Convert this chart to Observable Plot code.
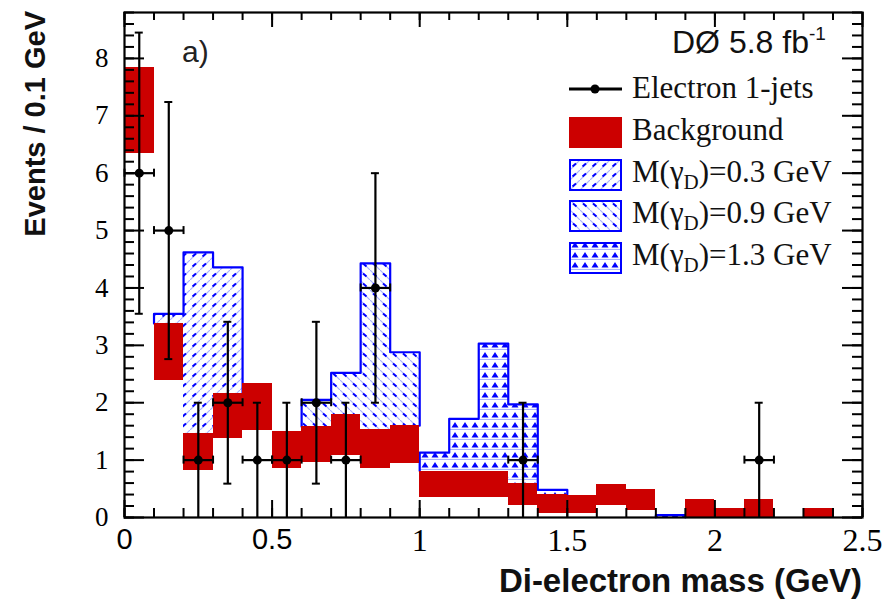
<!DOCTYPE html>
<html><head><meta charset="utf-8">
<script src="https://cdn.jsdelivr.net/npm/d3@7"></script>
<script src="https://cdn.jsdelivr.net/npm/@observablehq/plot@0.6"></script>
<style>
body{margin:0;background:#fff;}
#wrap{position:relative;width:893px;height:607px;overflow:hidden;background:#fff;}
#wrap > svg{position:absolute;left:0;top:0;}
</style></head><body>
<svg width="0" height="0" style="position:absolute;left:0;top:0">
<defs>
<pattern id="p03" width="10" height="10" patternUnits="userSpaceOnUse">
  <rect width="10" height="10" fill="#fff"/>
  <path d="M0,10 L10,0" stroke="#aab4ff" stroke-width="1.2"/>
  <path d="M2.5,6.5 L6,3.5" stroke="#0000ff" stroke-width="2"/>
</pattern>
<pattern id="p09" width="10" height="10" patternUnits="userSpaceOnUse">
  <rect width="10" height="10" fill="#fff"/>
  <path d="M0,0 L10,10" stroke="#aab4ff" stroke-width="1.2"/>
  <path d="M3,3.5 L6.5,6.5" stroke="#0000ff" stroke-width="2"/>
</pattern>
<pattern id="p13" width="10" height="10" patternUnits="userSpaceOnUse">
  <rect width="10" height="10" fill="#fff"/>
  <path d="M0,9.5 L10,9.5" stroke="#aab4ff" stroke-width="1.2"/>
  <path d="M5,2 L8.5,7.5 L1.5,7.5 Z" fill="#0000ff"/>
</pattern>
</defs>
</svg>
<div id="wrap"></div>
<script>
// ---- Data ----
const binLo    = [0.0,0.1,0.2,0.3,0.4,0.5,0.6,0.7,0.8,0.9,1.0,1.1,1.2,1.3,1.4,1.5,1.6,1.7,1.8,1.9,2.0,2.1,2.2,2.3,2.4];
const binHi    = [0.1,0.2,0.3,0.4,0.5,0.6,0.7,0.8,0.9,1.0,1.1,1.2,1.3,1.4,1.5,1.6,1.7,1.8,1.9,2.0,2.1,2.2,2.3,2.4,2.5];
// background uncertainty band (low / high)
const bkgLow   = [6.35,2.39,0.82,1.38,1.52,0.85,0.96,1.08,0.85,0.94,0.35,0.35,0.35,0.21,0.07,0.07,0.21,0.12,null,0,0,0,null,0,null];
const bkgHigh  = [7.85,3.38,1.46,2.16,2.33,1.50,1.58,1.80,1.53,1.60,0.81,0.81,0.81,0.59,0.40,0.38,0.57,0.49,null,0.31,0.16,0.31,null,0.16,null];
// signal + background histogram tops, and which dark-photon mass hypothesis they belong to
const sigTop   = [null,3.55,4.62,4.36,null,null,2.05,2.52,4.43,2.88,1.13,1.72,3.03,1.97,0.48,null,null,null,0.04,null,null,null,null,null,null];
const sigMass  = [null,"0.3","0.3","0.3",null,null,"0.9","0.9","0.9","0.9","1.3","1.3","1.3","1.3","1.3",null,null,null,"1.3",null,null,null,null,null,null];
// data: electron lepton-jets
const dataX    = [0.05,0.15,0.25,0.35,0.45,0.55,0.65,0.75,0.85,1.35,2.15];
const dataN    = [6,5,1,2,1,1,2,1,4,1,1];
const dataLo   = [3.55,2.76,0,0.59,0,0,0.59,0,2,0,0];
const dataHi   = [8.45,7.24,2,3.41,2,2,3.41,2,6,2,2];
const binHalf  = 0.05;
// ticks
const xMajor   = [0,0.5,1,1.5,2,2.5];
const xMinor   = [0,0.1,0.2,0.3,0.4,0.5,0.6,0.7,0.8,0.9,1,1.1,1.2,1.3,1.4,1.5,1.6,1.7,1.8,1.9,2,2.1,2.2,2.3,2.4,2.5];
const yMajor   = [0,1,2,3,4,5,6,7,8];
const yMinor   = [0,0.2,0.4,0.6,0.8,1,1.2,1.4,1.6,1.8,2,2.2,2.4,2.6,2.8,3,3.2,3.4,3.6,3.8,4,4.2,4.4,4.6,4.8,5,5.2,5.4,5.6,5.8,6,6.2,6.4,6.6,6.8,7,7.2,7.4,7.6,7.8,8,8.2,8.4,8.6,8.8];
const xLabelsSans  = [0,0.5];
const xLabelsSerif = [1,1.5,2,2.5];
const massIds = {"0.3":"p03","0.9":"p09","1.3":"p13"};

// ---- Build tables ----
const bins = binLo.map((lo,i)=>({lo, hi: binHi[i], bl: bkgLow[i], bh: bkgHigh[i], top: sigTop[i], m: sigMass[i]}));
const bandBins = bins.filter(d=>d.bl!=null);
const sigBins = bins.filter(d=>d.top!=null).map(d=>({...d, base: d.bh==null?0:d.bh}));
// outline groups: contiguous bins with same mass
const outline = [];
let g = -1, prev = null;
for (const d of sigBins) {
  const newGroup = !prev || prev.hi !== d.lo || prev.m !== d.m;
  if (newGroup) {
    if (prev) { outline.push({x: prev.hi, y: prev.top, g}); outline.push({x: prev.hi, y: prev.base, g}); }
    g++;
    outline.push({x: d.lo, y: d.base, g});
  }
  outline.push({x: d.lo, y: d.top, g});
  prev = d;
}
if (prev) { outline.push({x: prev.hi, y: prev.top, g}); outline.push({x: prev.hi, y: prev.base, g}); }

const pts = dataX.map((x,i)=>({x, n: dataN[i], lo: dataLo[i], hi: dataHi[i], x1: x-binHalf, x2: x+binHalf}));

const W = 893, H = 607, mL = 124, mR = 31, mT = 12, mB = 90;
const pw = W-mL-mR, ph = H-mT-mB;

const sigMarks = Object.keys(massIds).map(m =>
  Plot.rect(sigBins.filter(d=>d.m===m), {x1:"lo", x2:"hi", y1:"base", y2:"top", fill:`url(#${massIds[m]})`, inset:0, shapeRendering:"crispEdges"})
);

const chart = Plot.plot({
  width: W, height: H,
  marginLeft: mL, marginRight: mR, marginTop: mT, marginBottom: mB,
  x: {domain: [0, 2.5]},
  y: {domain: [0, 8.8]},
  style: {background: "transparent", color: "black", fontFamily: "Liberation Serif", overflow: "visible"},
  marks: [
    ...sigMarks,
    Plot.line(outline, {x:"x", y:"y", z:"g", curve:"step-after", stroke:"#0000ff", strokeWidth:2.2}),
    Plot.rect(bandBins, {x1:"lo", x2:"hi", y1:"bl", y2:"bh", fill:"#cc0000", inset:0, shapeRendering:"crispEdges"}),
    // inward ticks
    Plot.tickX(xMinor, {x:d=>d, insetTop: ph-9, strokeWidth:2}),
    Plot.tickX(xMajor, {x:d=>d, insetTop: ph-17, strokeWidth:2}),
    Plot.tickX(xMinor, {x:d=>d, insetBottom: ph-8, strokeWidth:2}),
    Plot.tickX(xMajor, {x:d=>d, insetBottom: ph-15, strokeWidth:2}),
    Plot.tickY(yMinor, {y:d=>d, insetRight: pw-10, strokeWidth:2}),
    Plot.tickY(yMajor, {y:d=>d, insetRight: pw-20, strokeWidth:2}),
    Plot.tickY(yMinor, {y:d=>d, insetLeft: pw-10, strokeWidth:2}),
    Plot.tickY(yMajor, {y:d=>d, insetLeft: pw-20, strokeWidth:2}),
    // data error bars
    Plot.ruleX(pts, {x:"x", y1:"lo", y2:"hi", strokeWidth:2.2}),
    Plot.ruleY(pts, {y:"n", x1:"x1", x2:"x2", strokeWidth:2.2}),
    Plot.ruleY(pts, {y:"hi", x1:"x", x2:"x", insetLeft:-4, insetRight:-4, strokeWidth:2}),
    Plot.ruleY(pts.filter(d=>d.lo>0), {y:"lo", x1:"x", x2:"x", insetLeft:-4, insetRight:-4, strokeWidth:2}),
    Plot.ruleX(pts, {x:"x1", y1:"n", y2:"n", insetTop:-4, insetBottom:-4, strokeWidth:2}),
    Plot.ruleX(pts, {x:"x2", y1:"n", y2:"n", insetTop:-4, insetBottom:-4, strokeWidth:2}),
    Plot.dot(pts, {x:"x", y:"n", r:4.5, fill:"black", stroke:null}),
    Plot.frame({stroke:"black", strokeWidth:2.2}),
    // axes labels
    Plot.axisY({ticks: yMajor, tickSize:0, tickPadding:16, fontSize:27, fontFamily:"Liberation Serif", label:null, tickFormat:d=>String(d)}),
    Plot.axisX({ticks: xLabelsSerif, tickSize:0, tickPadding:11, fontSize:32, fontFamily:"Liberation Serif", label:null, tickFormat:d=>String(d)}),
    Plot.axisX({ticks: xLabelsSans, tickSize:0, tickPadding:11, fontSize:29, fontFamily:"Liberation Sans", label:null, tickFormat:d=>String(d)})
  ]
});
const wrap = document.getElementById("wrap");
wrap.appendChild(chart);

// ---- overlay texts and legend ----
const ns = "http://www.w3.org/2000/svg";
const ov = document.createElementNS(ns, "svg");
ov.setAttribute("width", W); ov.setAttribute("height", H);
ov.style.pointerEvents = "none";
ov.innerHTML = `
<text x="862" y="592" text-anchor="end" font-family="Liberation Sans" font-weight="bold" font-size="33" fill="#111">Di-electron mass (GeV)</text>
<text transform="translate(45,11) rotate(-90)" text-anchor="end" font-family="Liberation Sans" font-weight="bold" font-size="29" fill="#111">Events / 0.1 GeV</text>
<text x="182" y="62" font-family="Liberation Sans" font-size="30" fill="#222">a)</text>
<text x="672" y="53" font-family="Liberation Sans" font-size="32" fill="#111">DØ 5.8 fb<tspan dy="-13" font-size="19">-1</tspan></text>
<g font-family="Liberation Serif" font-size="31" fill="#111">
  <line x1="569" y1="89" x2="622" y2="89" stroke="black" stroke-width="3"/>
  <circle cx="595" cy="89" r="4.5" fill="black"/>
  <text x="632" y="98">Electron 1-jets</text>
  <rect x="569" y="117" width="53" height="31" fill="#cc0000"/>
  <text x="632" y="140">Background</text>
  <rect x="570" y="160" width="51" height="30" fill="url(#p03)" stroke="#0000ff" stroke-width="2"/>
  <text x="632" y="182">M(γ<tspan dy="7" font-size="21">D</tspan><tspan dy="-7">)=0.3 GeV</tspan></text>
  <rect x="570" y="201" width="51" height="30" fill="url(#p09)" stroke="#0000ff" stroke-width="2"/>
  <text x="632" y="223">M(γ<tspan dy="7" font-size="21">D</tspan><tspan dy="-7">)=0.9 GeV</tspan></text>
  <rect x="570" y="243" width="51" height="30" fill="url(#p13)" stroke="#0000ff" stroke-width="2"/>
  <text x="632" y="265">M(γ<tspan dy="7" font-size="21">D</tspan><tspan dy="-7">)=1.3 GeV</tspan></text>
</g>`;
wrap.appendChild(ov);
</script>
</body></html>
